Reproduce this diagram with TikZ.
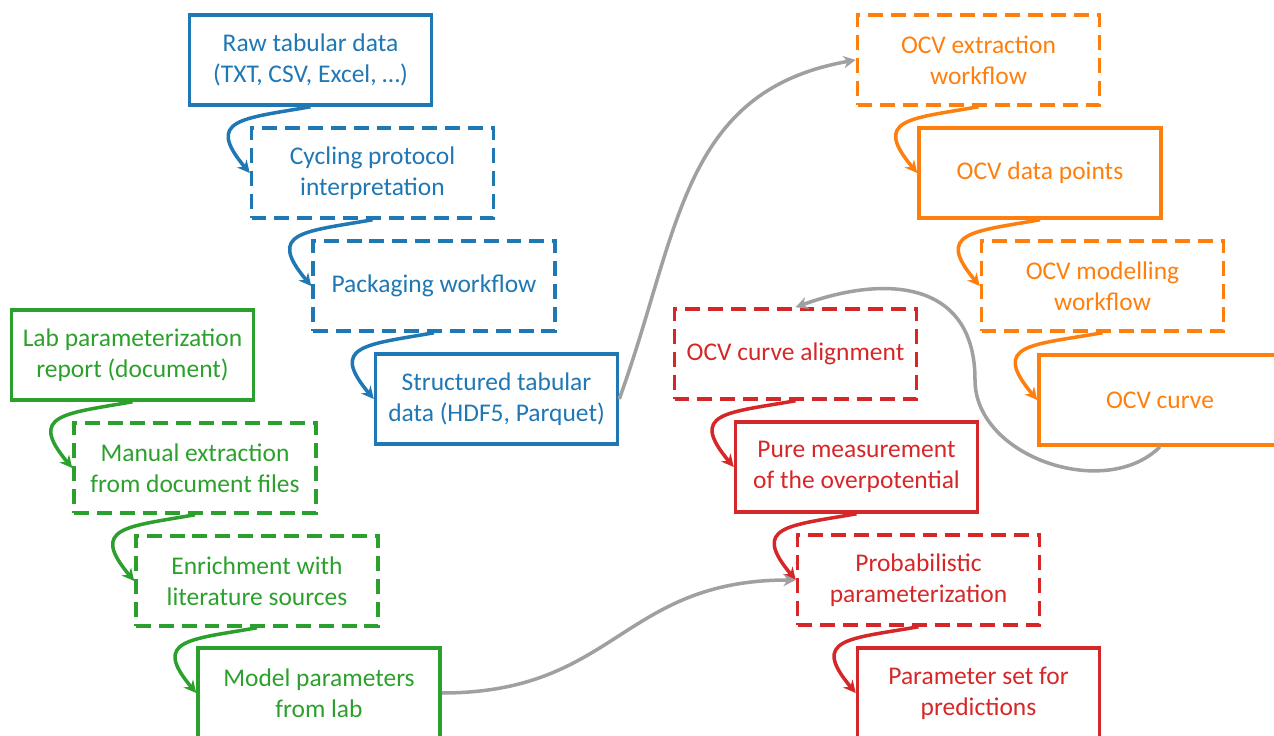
\documentclass[tikz,border=0pt]{standalone}
\usepackage{fontspec}
\setmainfont{Carlito}
\usetikzlibrary{arrows.meta, positioning}
\definecolor{flowBlue}{HTML}{1F77B4}
\definecolor{flowGreen}{HTML}{2CA02C}
\definecolor{flowOrange}{HTML}{FF7F0E}
\definecolor{flowRed}{HTML}{D62728}
\definecolor{flowGray}{HTML}{A0A0A0}
\tikzset{
  databox/.style={draw=#1, line width=2pt, text=#1, align=center,
    minimum width=4.84cm, minimum height=1.8cm, inner sep=4pt,
    font=\fontsize{14.5}{17.6}\selectfont},
  workbox/.style={databox=#1, dash pattern=on 8.5pt off 4.5pt},
  stepedge/.style={-{Stealth[length=7pt, width=7pt]}, line width=2pt, draw=#1},
  stepbend/.style={out=-170, in=130, looseness=2},
  linkedge/.style={-{Stealth[length=7pt, width=7pt]}, line width=2pt, draw=flowGray},
}

\begin{document}
\begin{tikzpicture}
  \useasboundingbox (0,0) rectangle (25.48,14.72);

  % --- Measurement data chain (blue) -------------------------------------
  \node[databox=flowBlue] (raw)    at (6.21,13.52) {Raw tabular data\\(TXT, CSV, Excel, \dots)};
  \node[workbox=flowBlue] (cycle)  at (7.45,11.26) {Cycling protocol\\interpretation};
  \node[workbox=flowBlue] (pack)   at (8.68,9.00)  {Packaging workflow};
  \node[databox=flowBlue] (struct) at (9.93,6.74)  {Structured tabular\\data (HDF5, Parquet)};

  % --- Lab report chain (green) ------------------------------------------
  \node[databox=flowGreen] (report) at (2.65,7.62) {Lab parameterization\\report (document)};
  \node[workbox=flowGreen] (manual) at (3.90,5.36) {Manual extraction\\from document files};
  \node[workbox=flowGreen] (enrich) at (5.14,3.10) {Enrichment with\\literature sources};
  \node[databox=flowGreen] (labpar) at (6.38,0.86) {Model parameters\\from lab};

  % --- OCV chain (orange) ------------------------------------------------
  \node[workbox=flowOrange] (ocvext)  at (19.57,13.52) {OCV extraction\\workflow};
  \node[databox=flowOrange] (ocvpts)  at (20.80,11.26) {OCV data points};
  \node[workbox=flowOrange] (ocvmod)  at (22.05,9.00)  {OCV modelling\\workflow};
  \node[databox=flowOrange] (ocvcurve) at (23.20,6.72) {OCV curve};

  % --- Parameterization chain (red) --------------------------------------
  \node[workbox=flowRed] (align)  at (15.91,7.64) {OCV curve alignment};
  \node[databox=flowRed] (pure)   at (17.13,5.38) {Pure measurement\\of the overpotential};
  \node[workbox=flowRed] (prob)   at (18.37,3.12) {Probabilistic\\parameterization};
  \node[databox=flowRed] (predset) at (19.57,0.86) {Parameter set for\\predictions};

  % --- Steps within each chain -------------------------------------------
  \draw[stepedge=flowBlue] (raw.south)   to[stepbend] (cycle.west);
  \draw[stepedge=flowBlue] (cycle.south) to[stepbend] (pack.west);
  \draw[stepedge=flowBlue] (pack.south)  to[stepbend] (struct.west);

  \draw[stepedge=flowGreen] (report.south) to[stepbend] (manual.west);
  \draw[stepedge=flowGreen] (manual.south) to[stepbend] (enrich.west);
  \draw[stepedge=flowGreen] (enrich.south) to[stepbend] (labpar.west);

  \draw[stepedge=flowOrange] (ocvext.south) to[stepbend] (ocvpts.west);
  \draw[stepedge=flowOrange] (ocvpts.south) to[stepbend] (ocvmod.west);
  \draw[stepedge=flowOrange] (ocvmod.south) to[stepbend] (ocvcurve.west);

  \draw[stepedge=flowRed] (align.south) to[stepbend] (pure.west);
  \draw[stepedge=flowRed] (pure.south)  to[stepbend] (prob.west);
  \draw[stepedge=flowRed] (prob.south)  to[stepbend] (predset.west);

  % --- Links between chains (gray) ---------------------------------------
  \draw[linkedge] (struct.east) to[out=70, in=190, looseness=1.1] (ocvext.west);
  \draw[linkedge] (labpar.east) to[out=0, in=180, looseness=1.2] (prob.west);
  \coordinate (loopturn) at (19.50,7.12);
  \draw[linkedge] (ocvcurve.south) to[out=-135, in=-90] (loopturn)
        to[out=90, in=20, looseness=1.3] (align.north);

\end{tikzpicture}
\end{document}
